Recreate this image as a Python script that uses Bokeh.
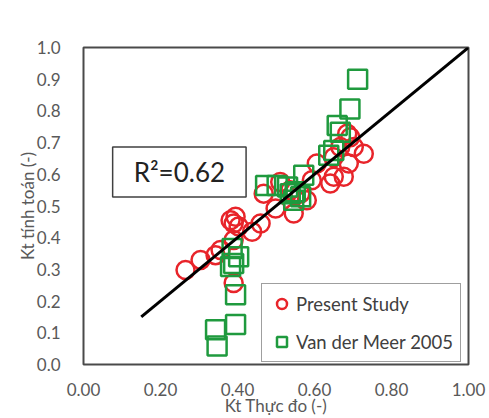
from bokeh.plotting import figure
from bokeh.models import (Range1d, Legend, LegendItem, Label, NumeralTickFormatter,
                          FixedTicker, BoxAnnotation)
from bokeh.embed import file_html
from bokeh.resources import INLINE

# Present Study (red circles)
present_x = [0.265, 0.304, 0.343, 0.356, 0.382, 0.390, 0.395, 0.403, 0.390, 0.390,
             0.438, 0.460, 0.468, 0.499, 0.546, 0.563, 0.580, 0.593, 0.606, 0.641,
             0.650, 0.676, 0.689, 0.693, 0.702, 0.728, 0.685, 0.667, 0.650, 0.537, 0.511]
present_y = [0.298, 0.330, 0.345, 0.361, 0.455, 0.445, 0.466, 0.435, 0.393, 0.257,
             0.419, 0.445, 0.539, 0.492, 0.476, 0.539, 0.518, 0.581, 0.634, 0.571,
             0.592, 0.592, 0.634, 0.717, 0.686, 0.665, 0.728, 0.686, 0.654, 0.550, 0.576]

# Van der Meer 2005 (green squares)
vdm_x = [0.712, 0.692, 0.659, 0.667, 0.637, 0.650, 0.572, 0.473, 0.503, 0.530,
         0.537, 0.550, 0.564, 0.546, 0.386, 0.403, 0.390, 0.382, 0.395, 0.395, 0.343, 0.347]
vdm_y = [0.900, 0.806, 0.754, 0.733, 0.660, 0.675, 0.597, 0.565, 0.565, 0.560,
         0.539, 0.545, 0.529, 0.518, 0.366, 0.340, 0.319, 0.309, 0.220, 0.126, 0.110, 0.058]

# 1:1 line
fit_x = [0.15, 1.0]
fit_y = [0.15, 1.0]

x_ticks = [0.0, 0.2, 0.4, 0.6, 0.8, 1.0]
y_ticks = [0.0, 0.1, 0.2, 0.3, 0.4, 0.5, 0.6, 0.7, 0.8, 0.9, 1.0]
x_title = "Kt Thực đo (-)"
y_title = "Kt tính toán (-)"
r2_text = "R²=0.62"
series_names = ["Present Study", "Van der Meer 2005"]

FONT = "Lato"
GRAY = "#595959"

p = figure(width=489, height=418, output_backend="svg", toolbar_location=None,
           x_range=Range1d(0, 1), y_range=Range1d(0, 1),
           min_border_left=83, min_border_top=47, min_border_right=21, min_border_bottom=53)

p.background_fill_color = "white"
p.border_fill_color = "white"
p.outline_line_color = "#4a4a4a"
p.outline_line_width = 2
p.grid.visible = False

# faint outer chart-area border
p.add_layout(BoxAnnotation(left=10, right=700, top=406, bottom=-50,
                           left_units="canvas", right_units="canvas",
                           top_units="canvas", bottom_units="canvas",
                           fill_alpha=0, line_color="#dedede", line_width=1.5,
                           level="annotation", propagate_hover=False, editable=False))

for ax in (p.xaxis[0], p.yaxis[0]):
    ax.axis_line_color = None
    ax.major_tick_line_color = None
    ax.minor_tick_line_color = None
    ax.major_label_text_font = FONT
    ax.major_label_text_color = GRAY
    ax.major_label_text_font_size = "17px"
    ax.axis_label_text_font = FONT
    ax.axis_label_text_color = GRAY
    ax.axis_label_text_font_size = "17px"
    ax.axis_label_text_font_style = "normal"

p.xaxis.ticker = FixedTicker(ticks=x_ticks)
p.yaxis.ticker = FixedTicker(ticks=y_ticks)
p.xaxis.formatter = NumeralTickFormatter(format="0.00")
p.yaxis.formatter = NumeralTickFormatter(format="0.0")
p.xaxis.major_label_standoff = 12
p.xaxis.axis_label_standoff = -4
p.yaxis.major_label_standoff = 17
p.yaxis.axis_label_standoff = -4
p.xaxis.axis_label = x_title
p.yaxis.axis_label = y_title

r1 = p.scatter(present_x, present_y, marker="circle", size=18, fill_color=None,
               line_color="#e8242a", line_width=2.5)
r2 = p.scatter(vdm_x, vdm_y, marker="square", size=19, fill_color=None,
               line_color="#1f9a3e", line_width=2.5)
p.line(fit_x, fit_y, line_color="black", line_width=3)

lab = Label(x=0.249, y=0.607, text=r2_text, text_font=FONT, text_font_size="26px",
            text_color="#222222", text_align="center", text_baseline="middle",
            border_line_color="#404040", border_line_width=1.5,
            background_fill_color="white", padding=(21, 9))
p.add_layout(lab)

legend = Legend(items=[LegendItem(label=series_names[0], renderers=[r1]),
                       LegendItem(label=series_names[1], renderers=[r2])],
                location=(178, 2), orientation="vertical",
                glyph_width=25, glyph_height=25, label_standoff=2, spacing=13,
                padding=7, margin=0,
                label_text_font=FONT, label_text_font_size="18.5px", label_text_color="#404040",
                border_line_color="#404040", border_line_width=1.5,
                background_fill_color="white", background_fill_alpha=1.0)
p.add_layout(legend)

open("out.html", "w").write(file_html(p, INLINE))
